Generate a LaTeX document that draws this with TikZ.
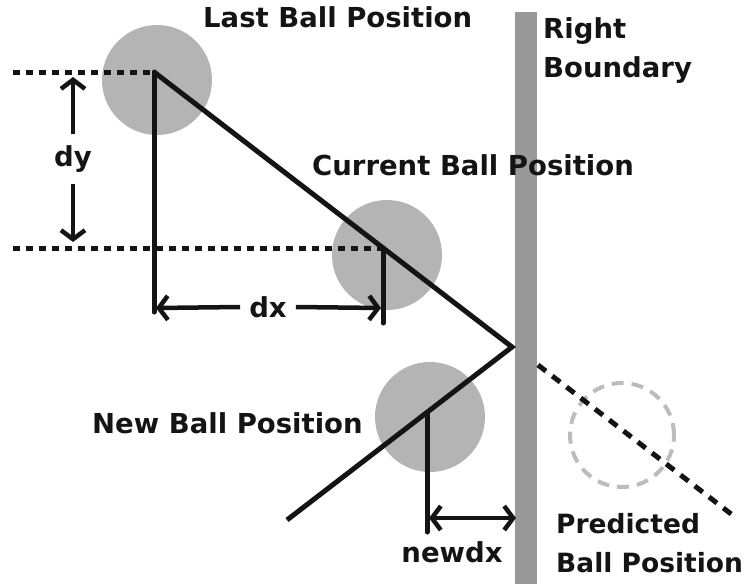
\documentclass[tikz,border=0pt]{standalone}
\usepackage{fontspec}
\setmainfont{DejaVu Sans}
\usetikzlibrary{arrows.meta,positioning}
\definecolor{ballgray}{HTML}{B4B4B4}
\definecolor{wallgray}{HTML}{999999}
\definecolor{ghostgray}{HTML}{BCBCBC}
\definecolor{inkblack}{HTML}{141414}
\tikzset{
  ball/.style={circle,fill=ballgray,minimum size=110pt,inner sep=0pt},
  ghost/.style={circle,draw=ghostgray,line width=4pt,
                dash pattern=on 12pt off 8pt,minimum size=104pt,inner sep=0pt},
  wall/.style={rectangle,fill=wallgray,minimum width=22pt,
               minimum height=572pt,inner sep=0pt},
  lbl/.style={font=\fontsize{27.5}{40}\selectfont\bfseries,text=inkblack,
              inner sep=0pt,align=left},
  track/.style={line width=5pt,draw=inkblack,line cap=round},
  guide/.style={line width=5pt,draw=inkblack,dash pattern=on 7pt off 6pt},
  fwd/.style={line width=5pt,draw=inkblack,dash pattern=on 10pt off 8pt},
  arr/.style={-{Straight Barb[length=9pt,width=24pt,line width=4.5pt]},
              line width=4.5pt,draw=inkblack},
  darr/.style={{Straight Barb[length=9pt,width=24pt,line width=4.5pt]}-{Straight Barb[length=9pt,width=24pt,line width=4.5pt]},
               line width=4.5pt,draw=inkblack},
}
\begin{document}
\begin{tikzpicture}[x=1pt,y=-1pt]
  \useasboundingbox (0,0) rectangle (753,584);

  % balls and wall
  \node[ball] (lastball) at (157,80) {};
  \node[ball] (curball) at (387,255) {};
  \node[ball] (newball) at (430,417) {};
  \node[ghost] (predball) at (622,435) {};
  \node[wall] (wall) at (526,298) {};

  % key points
  \coordinate (lastc) at (154,72);
  \coordinate (curc) at (383,248);
  \coordinate (bounce) at (512,347);
  \coordinate (newc) at (427,413);
  \coordinate (endp) at (287,520);
  \coordinate (predS) at (538,365);
  \coordinate (predE) at (735,517);

  % guide lines
  \draw[guide] (13,72) coordinate (g1) -- (lastc);
  \draw[guide] (13,248) coordinate (g2) -- (curc);
  \draw[track] (lastc) -- (154,312) coordinate (dxbase);
  \draw[track] (curc) -- (383,323) coordinate (curbase);
  \draw[track] (newc) -- (427,532) coordinate (newbase);

  % ball track
  \draw[track,line cap=butt,line join=miter] (lastc) -- (bounce) -- (endp);
  \draw[fwd] (predS) -- (predE);

  % dy
  \node[lbl,inner ysep=11pt] (dylbl) at (73,159) {dy};
  \coordinate (dyT) at (73,77);
  \coordinate (dyB) at (73,242);
  \draw[arr] (dylbl.north) -- (dyT);
  \draw[arr] (dylbl.south) -- (dyB);

  % dx
  \node[lbl,inner xsep=9pt] (dxlbl) at (268,307) {dx};
  \coordinate (dxL) at (156,308);
  \coordinate (dxR) at (381,308);
  \draw[arr] (dxlbl.west) -- (dxL);
  \draw[arr] (dxlbl.east) -- (dxR);

  % newdx
  \coordinate (ndxL) at (429,518);
  \coordinate (ndxR) at (516,518);
  \draw[darr] (ndxL) -- (ndxR);
  \node[lbl,anchor=base] (ndxlbl) at (452,562) {newdx};

  % labels
  \node[lbl,anchor=base west] (lastlbl) at (203,27) {Last Ball Position};
  \node[lbl,anchor=base west] (curlbl) at (312,175) {Current Ball Position};
  \node[lbl,anchor=base west] (newlbl) at (92,433) {New Ball Position};
  \node[lbl,anchor=north west,font=\fontsize{27.5}{39}\selectfont\bfseries]
    (walllbl) at (543,17) {Right\\Boundary};
  \node[lbl,anchor=north west,font=\fontsize{26.5}{39}\selectfont\bfseries]
    (predlbl) at (556,513) {Predicted\\Ball Position};
\end{tikzpicture}
\end{document}
